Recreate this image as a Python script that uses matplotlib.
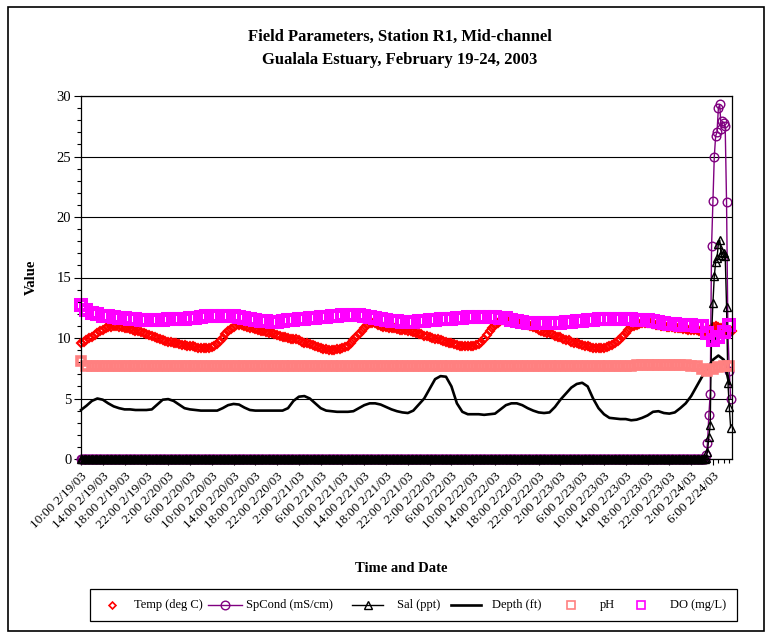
import numpy as np
import matplotlib
matplotlib.use("Agg")
import matplotlib.pyplot as plt
from matplotlib.lines import Line2D
from matplotlib.patches import Rectangle
from matplotlib.ticker import MultipleLocator

plt.rcParams['font.family'] = ['Liberation Serif', 'DejaVu Serif']

# ---------------- data ----------------
tick_labels = ["10:00 2/19/03", "14:00 2/19/03", "18:00 2/19/03", "22:00 2/19/03",
               "2:00 2/20/03", "6:00 2/20/03", "10:00 2/20/03", "14:00 2/20/03", "18:00 2/20/03", "22:00 2/20/03",
               "2:00 2/21/03", "6:00 2/21/03", "10:00 2/21/03", "14:00 2/21/03", "18:00 2/21/03", "22:00 2/21/03",
               "2:00 2/22/03", "6:00 2/22/03", "10:00 2/22/03", "14:00 2/22/03", "18:00 2/22/03", "22:00 2/22/03",
               "2:00 2/23/03", "6:00 2/23/03", "10:00 2/23/03", "14:00 2/23/03", "18:00 2/23/03", "22:00 2/23/03",
               "2:00 2/24/03", "6:00 2/24/03"]

# Temperature (deg C), every 30 minutes from 10:00 2/19/03
temp_c = [9.56, 9.7, 9.85, 10.0, 10.1, 10.25, 10.4, 10.55, 10.7, 10.8, 10.9, 10.95, 11.0, 11.0, 10.95, 10.9, 10.85,
          10.8, 10.75, 10.7, 10.6, 10.55, 10.5, 10.4, 10.35, 10.25, 10.15, 10.1, 10.0, 9.9, 9.85, 9.75, 9.7,
          9.65, 9.6, 9.55, 9.5, 9.45, 9.4, 9.35, 9.3, 9.3, 9.25, 9.2, 9.15, 9.15, 9.15, 9.2, 9.25,
          9.35, 9.5, 9.75, 10.0, 10.3, 10.55, 10.75, 10.95, 11.05, 11.1, 11.05, 11.0, 10.9, 10.85, 10.8, 10.75,
          10.7, 10.6, 10.55, 10.5, 10.45, 10.4, 10.3, 10.25, 10.2, 10.1, 10.05, 10.0, 9.95, 9.95, 9.9, 9.8,
          9.7, 9.6, 9.55, 9.5, 9.4, 9.35, 9.25, 9.15, 9.1, 9.05, 9.0, 9.0, 9.0, 9.05, 9.1, 9.15,
          9.25, 9.35, 9.55, 9.8, 10.05, 10.3, 10.6, 10.85, 11.05, 11.2, 11.25, 11.2, 11.1, 11.0, 10.95, 10.9,
          10.85, 10.85, 10.8, 10.75, 10.7, 10.65, 10.65, 10.6, 10.55, 10.5, 10.4, 10.35, 10.3, 10.2, 10.15, 10.1,
          10.0, 9.95, 9.9, 9.8, 9.75, 9.7, 9.6, 9.55, 9.5, 9.4, 9.35, 9.3, 9.3, 9.3, 9.3, 9.35,
          9.4, 9.5, 9.7, 9.95, 10.25, 10.55, 10.85, 11.05, 11.25, 11.4, 11.5, 11.55, 11.6, 11.6, 11.6, 11.5,
          11.4, 11.3, 11.2, 11.1, 11.0, 10.9, 10.8, 10.7, 10.6, 10.5, 10.45, 10.4, 10.3, 10.2, 10.1, 10.05,
          9.95, 9.85, 9.8, 9.7, 9.6, 9.55, 9.5, 9.4, 9.35, 9.3, 9.25, 9.2, 9.15, 9.15, 9.15, 9.2,
          9.25, 9.3, 9.4, 9.55, 9.75, 9.95, 10.2, 10.45, 10.7, 10.9, 11.0, 11.1, 11.15, 11.2, 11.2, 11.2,
          11.2, 11.15, 11.1, 11.05, 11.0, 11.0, 10.95, 10.9, 10.9, 10.85, 10.8, 10.8, 10.75, 10.75, 10.7, 10.7,
          10.65, 10.65, 10.6, 10.6, 10.6, 10.55, 10.7, 10.9, 11.0, 10.9, 10.8, 10.7, 10.6, 10.55, 10.6]

# Specific conductance (mS/cm) and salinity (ppt), every 15 minutes
spcond_base = [0.0] * 459
spcond_spike = [0.3, 1.3, 3.6, 5.4, 17.6, 21.3, 25.0, 26.7, 27.0, 29.0, 29.3, 27.3, 27.9, 27.8, 27.5,
                21.2, 10.5, 7.3, 5.0]
sal_base = [0.0] * 459
sal_spike = [0.1, 0.6, 1.8, 2.8, 10.2, 12.9, 15.1, 16.3, 16.6, 17.8, 18.1, 16.9, 17.1, 17.0, 16.8,
             12.6, 6.3, 4.3, 2.6]

# Depth (ft), hourly
depth_ft = [4.05, 4.4, 4.8, 5.0, 4.9, 4.6, 4.35, 4.2, 4.1, 4.1, 4.05, 4.05, 4.05, 4.1, 4.5, 4.9, 4.95, 4.8, 4.5, 4.2,
            4.1, 4.05, 4.0, 4.0, 4.0, 4.0, 4.2, 4.45, 4.55, 4.5, 4.25, 4.05, 4.0, 4.0, 4.0, 4.0, 4.0, 4.0, 4.2, 4.8,
            5.15, 5.2, 5.0, 4.6, 4.2, 4.0, 3.95, 3.9, 3.9, 3.9, 3.95, 4.2, 4.45, 4.6, 4.6, 4.5, 4.3, 4.1, 3.95, 3.85,
            3.8, 4.0, 4.5, 5.0, 5.8, 6.6, 6.85, 6.8, 6.0, 4.6, 3.9, 3.7, 3.7, 3.7, 3.65, 3.7, 3.75, 4.1, 4.45, 4.6,
            4.6, 4.45, 4.2, 4.0, 3.85, 3.8, 3.85, 4.3, 4.9, 5.4, 5.9, 6.2, 6.3, 6.0, 5.0, 4.2, 3.7, 3.4, 3.35, 3.3,
            3.3, 3.2, 3.25, 3.4, 3.6, 3.9, 3.95, 3.8, 3.75, 3.85, 4.2, 4.6, 5.2, 6.0, 6.8, 7.5, 8.2, 8.55, 8.2, 6.2]

# pH, hourly
ph = [8.1] + [7.65] * 99 + [7.7, 7.72, 7.75, 7.75, 7.75, 7.75, 7.75, 7.75, 7.75, 7.75, 7.75, 7.75, 7.72, 7.7] \
     + [7.45, 7.3, 7.45, 7.6, 7.65, 7.7]

# Dissolved oxygen (mg/L), hourly
do_mgl = [12.7, 12.3, 12.1, 11.95, 11.85, 11.78, 11.72, 11.68, 11.62, 11.58, 11.55, 11.52, 11.5, 11.5, 11.5, 11.52,
          11.53, 11.55, 11.57, 11.6, 11.63, 11.68, 11.72, 11.78, 11.83, 11.85, 11.85, 11.82, 11.78, 11.72, 11.65,
          11.58, 11.5, 11.42, 11.38, 11.35, 11.35, 11.4, 11.45, 11.5, 11.55, 11.6, 11.63, 11.67, 11.7, 11.75, 11.8,
          11.85, 11.88, 11.9, 11.9, 11.87, 11.82, 11.72, 11.62, 11.55, 11.48, 11.42, 11.38, 11.35, 11.33, 11.35,
          11.38, 11.42, 11.45, 11.5, 11.53, 11.57, 11.6, 11.63, 11.68, 11.72, 11.75, 11.77, 11.77, 11.75, 11.72,
          11.68, 11.62, 11.5, 11.4, 11.32, 11.27, 11.23, 11.2, 11.2, 11.2, 11.22, 11.25, 11.3, 11.33, 11.38, 11.42,
          11.45, 11.5, 11.53, 11.56, 11.58, 11.6, 11.6, 11.58, 11.55, 11.52, 11.5, 11.45, 11.38, 11.3, 11.22, 11.17,
          11.13, 11.1, 11.08, 11.05, 11.02, 11.0, 10.4, 9.85, 10.1, 10.5, 11.05]

series_labels = ["Temp (deg C)", "SpCond (mS/cm)", "Sal (ppt)", "Depth (ft)", "pH", "DO (mg/L)"]

# ---------------- figure ----------------
W, H = 771, 637
fig = plt.figure(figsize=(W / 100, H / 100), dpi=100)


def fx(px):
    return px / W


def fy(py):
    return 1 - py / H


ax = fig.add_axes([fx(81), fy(459), fx(732) - fx(81), fy(96) - fy(459)])

spcond = spcond_base + spcond_spike
sal = sal_base + sal_spike
t_temp = np.arange(len(temp_c)) * 0.5
t_cond = np.arange(len(spcond)) * 0.25
t_depth = np.arange(len(depth_ft))
t_ph = np.arange(len(ph))
t_do = np.arange(len(do_mgl))

styles = [
    dict(ls='none', marker='D', ms=4.4, mfc='none', mec='#FF0000', mew=1.5),
    dict(color='#800080', lw=1.0, marker='o', ms=6.2, mfc='none', mec='#800080', mew=1.0),
    dict(color='black', lw=1.0, marker='^', ms=5.5, mfc='none', mec='black', mew=1.0),
    dict(color='black', lw=1.9),
    dict(ls='none', marker='s', ms=6.2, mfc='none', mec='#FF8080', mew=2.6),
    dict(ls='none', marker='s', ms=7.4, mfc='none', mec='#FF00FF', mew=2.9),
]

ax.plot(t_temp, temp_c, clip_on=False, **styles[0])
ax.plot(t_cond, spcond, clip_on=False, **styles[1])
ax.plot(t_cond, sal, clip_on=False, **styles[2])
ax.plot(t_depth, depth_ft, clip_on=False, **styles[3])
ax.plot(t_ph, ph, clip_on=False, **styles[4])
ax.plot(t_do, do_mgl, clip_on=False, **styles[5])

ax.set_xlim(0, 119.5)
ax.set_ylim(0, 30)
ax.yaxis.set_major_locator(MultipleLocator(5))
ax.yaxis.set_minor_locator(MultipleLocator(1))
ax.set_xticks(np.arange(len(tick_labels)) * 4)
ax.xaxis.set_minor_locator(MultipleLocator(1))
ax.set_xticklabels(tick_labels, rotation=45, ha='right', va='top', rotation_mode='anchor', fontsize=9.5)
ax.tick_params(axis='y', which='major', direction='out', length=5, width=0.8, labelsize=10.5, pad=2)
ax.tick_params(axis='y', which='minor', direction='out', length=3, width=0.8)
ax.tick_params(axis='x', which='major', direction='out', length=4, width=0.8, pad=4)
ax.tick_params(axis='x', which='minor', direction='out', length=3, width=0.8)
ax.yaxis.grid(True, color='black', lw=0.8)
ax.set_axisbelow(True)
for s in ax.spines.values():
    s.set_color('black')
    s.set_linewidth(0.9)

fig.text(fx(400), fy(37), "Field Parameters, Station R1, Mid-channel", ha='center', va='center',
         fontsize=12, fontweight='bold')
fig.text(fx(400), fy(60), "Gualala Estuary, February 19-24, 2003", ha='center', va='center',
         fontsize=12, fontweight='bold')
fig.text(fx(31), fy(277), "Value", rotation=90, ha='center', va='center', fontsize=10.5, fontweight='bold')
fig.text(fx(401), fy(568), "Time and Date", ha='center', va='center', fontsize=10.5, fontweight='bold')

# ---- legend laid out like the spreadsheet legend ----
leg_y = 605
fig.patches.append(Rectangle((fx(90), fy(621)), fx(737) - fx(90), fy(589) - fy(621), transform=fig.transFigure,
                             fill=False, edgecolor='black', lw=0.9))
# (handle start px, handle end px, text start px)
entries = [(112, 112, 134), (208, 242, 246), (352, 383, 397), (451, 481, 492), (571, 571, 600), (641, 641, 670)]
for (x0, x1, xt), st, lab in zip(entries, styles, series_labels):
    st = dict(st)
    if st.get('ls') == 'none':
        xs, ys = [fx(x0)], [fy(leg_y)]
    else:
        xs, ys = [fx(x0), fx((x0 + x1) / 2), fx(x1)], [fy(leg_y)] * 3
        st['markevery'] = [1]
    if st.get('marker') == 's':
        st['ms'] = 6
        st['mew'] = 1.2
    if st.get('marker') == 'D':
        st['ms'] = 3.5
        st['mew'] = 1.2
    fig.add_artist(Line2D(xs, ys, transform=fig.transFigure, **st))
    fig.text(fx(xt), fy(leg_y), lab, ha='left', va='center', fontsize=9)

fig.patches.append(Rectangle((fx(8), fy(631)), fx(764) - fx(8), fy(7) - fy(631), transform=fig.transFigure,
                             fill=False, edgecolor='black', lw=1.2))

fig.savefig("out.png", dpi=100)
